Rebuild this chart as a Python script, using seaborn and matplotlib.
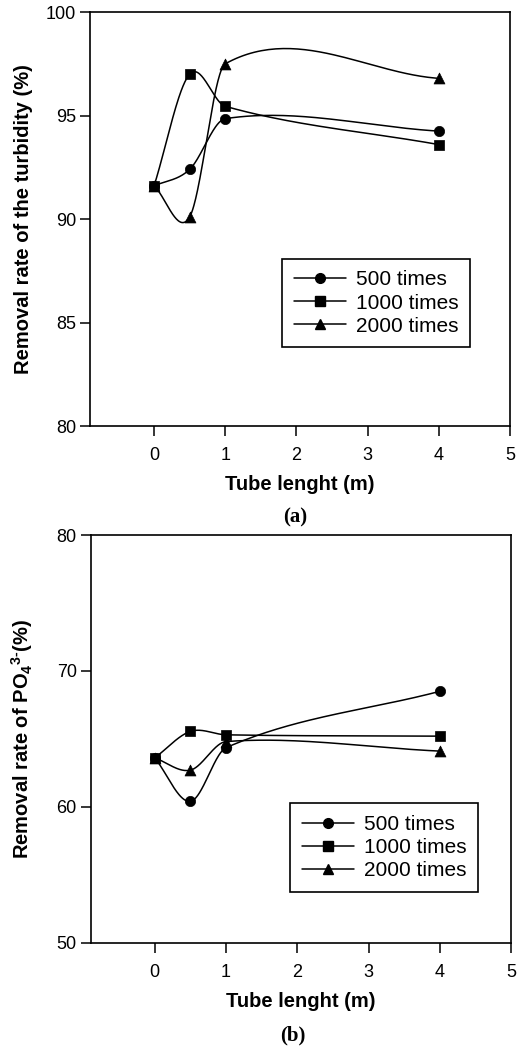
import numpy as np
import pandas as pd
import matplotlib
matplotlib.use('Agg')
import matplotlib.pyplot as plt
from matplotlib.lines import Line2D
import seaborn as sns

# data
tube_length = [0, 0.5, 1, 4]
series_names = ['500 times', '1000 times', '2000 times']

turbidity_500 = [91.6, 92.4, 94.85, 94.25]
turbidity_1000 = [91.6, 97.0, 95.45, 93.6]
turbidity_2000 = [91.6, 90.1, 97.5, 96.8]

po4_500 = [63.6, 60.4, 64.35, 68.5]
po4_1000 = [63.6, 65.55, 65.3, 65.2]
po4_2000 = [63.6, 62.7, 64.8, 64.1]

x_ticks = [0, 1, 2, 3, 4, 5]
turb_yticks = [80, 85, 90, 95, 100]
po4_yticks = [50, 60, 70, 80]

sns.set_theme(style='ticks')
plt.rcParams['font.family'] = ['Liberation Sans', 'DejaVu Sans']
plt.rcParams['text.color'] = 'black'
plt.rcParams['axes.labelcolor'] = 'black'
plt.rcParams['xtick.color'] = 'black'
plt.rcParams['ytick.color'] = 'black'
plt.rcParams['mathtext.fontset'] = 'custom'
plt.rcParams['mathtext.rm'] = 'Liberation Sans:bold'
plt.rcParams['mathtext.bf'] = 'Liberation Sans:bold'
plt.rcParams['mathtext.default'] = 'bf'

MARKERS = {'500 times': 'o', '1000 times': 's', '2000 times': '^'}
SIZES = {'500 times': 55, '1000 times': 50, '2000 times': 62}


def spline_curve(x, y, n=60):
    """Catmull-Rom style curve through the points (line drawing only)"""
    x = np.asarray(x, float)
    y = np.asarray(y, float)
    m = np.zeros_like(y)
    m[0] = (y[1] - y[0]) / (x[1] - x[0])
    m[-1] = (y[-1] - y[-2]) / (x[-1] - x[-2])
    for i in range(1, len(x) - 1):
        m[i] = (y[i + 1] - y[i - 1]) / (x[i + 1] - x[i - 1])
    xs, ys = [], []
    for i in range(len(x) - 1):
        h = x[i + 1] - x[i]
        t = np.linspace(0, 1, n)
        h00 = 2 * t**3 - 3 * t**2 + 1
        h10 = t**3 - 2 * t**2 + t
        h01 = -2 * t**3 + 3 * t**2
        h11 = t**3 - t**2
        xs.append(x[i] + t * h)
        ys.append(h00 * y[i] + h10 * h * m[i] + h01 * y[i + 1] + h11 * h * m[i + 1])
    return np.concatenate(xs), np.concatenate(ys)


def draw_panel(ax, values, yticks, ylabel, legend_center, xlabel_y, ylabel_x):
    df = pd.DataFrame({
        'x': tube_length * 3,
        'y': sum(values, []),
        'series': np.repeat(series_names, len(tube_length)),
    })
    for name, vals in zip(series_names, values):
        cx, cy = spline_curve(tube_length, vals)
        ax.plot(cx, cy, color='black', lw=1.1, zorder=2)
    for name in series_names:
        sub = df[df['series'] == name]
        sns.scatterplot(data=sub, x='x', y='y', marker=MARKERS[name], s=SIZES[name],
                        color='black', edgecolor='black', linewidth=0.5,
                        ax=ax, legend=False, zorder=3)

    ax.set_xlim(-0.9, 5)
    ax.set_ylim(yticks[0], yticks[-1])
    ax.set_xticks(x_ticks)
    ax.set_yticks(yticks)
    ax.tick_params(axis='both', direction='out', length=7, width=1.1,
                   labelsize=13, colors='black')
    ax.tick_params(axis='x', pad=8)
    ax.tick_params(axis='y', pad=3)
    for sp in ax.spines.values():
        sp.set_linewidth(1.2)
        sp.set_color('black')

    ax.set_xlabel('Tube lenght (m)', fontsize=14.5, fontweight='bold')
    ax.set_ylabel(ylabel, fontsize=14.5, fontweight='bold')
    ax.xaxis.set_label_coords(0.5, xlabel_y)
    ax.yaxis.set_label_coords(ylabel_x, 0.5)

    handles = [Line2D([0], [0], color='black', lw=1.1, marker=MARKERS[n],
                      markersize=7, markerfacecolor='black') for n in series_names]
    leg = ax.legend(handles, series_names, loc='center', bbox_to_anchor=legend_center,
                    fontsize=15, handlelength=2.5, handletextpad=0.5,
                    labelspacing=0.2, borderpad=0.55, fancybox=False,
                    framealpha=1, edgecolor='black')
    leg.get_frame().set_linewidth(1.2)


fig = plt.figure(figsize=(5.21, 10.52), dpi=100)
ax1 = fig.add_axes([0.1727, 0.595, 0.806, 0.3935])
ax2 = fig.add_axes([0.174, 0.1039, 0.807, 0.3875])

draw_panel(ax1, [turbidity_500, turbidity_1000, turbidity_2000], turb_yticks,
           'Removal rate of the turbidity (%)', (0.682, 0.297), -0.118, -0.136)
draw_panel(ax2, [po4_500, po4_1000, po4_2000], po4_yticks,
           r'Removal rate of PO$_4$$^{3\text{-}}$(%)', (0.698, 0.2335), -0.121, -0.133)

fig.text(295 / 521, 1 - 517 / 1052, '(a)', ha='center', va='center', fontsize=15,
         fontweight='bold', family='Liberation Serif')
fig.text(293 / 521, 1 - 1035 / 1052, '(b)', ha='center', va='center', fontsize=15,
         fontweight='bold', family='Liberation Serif')

fig.savefig('out.png', dpi=100, facecolor='white')
